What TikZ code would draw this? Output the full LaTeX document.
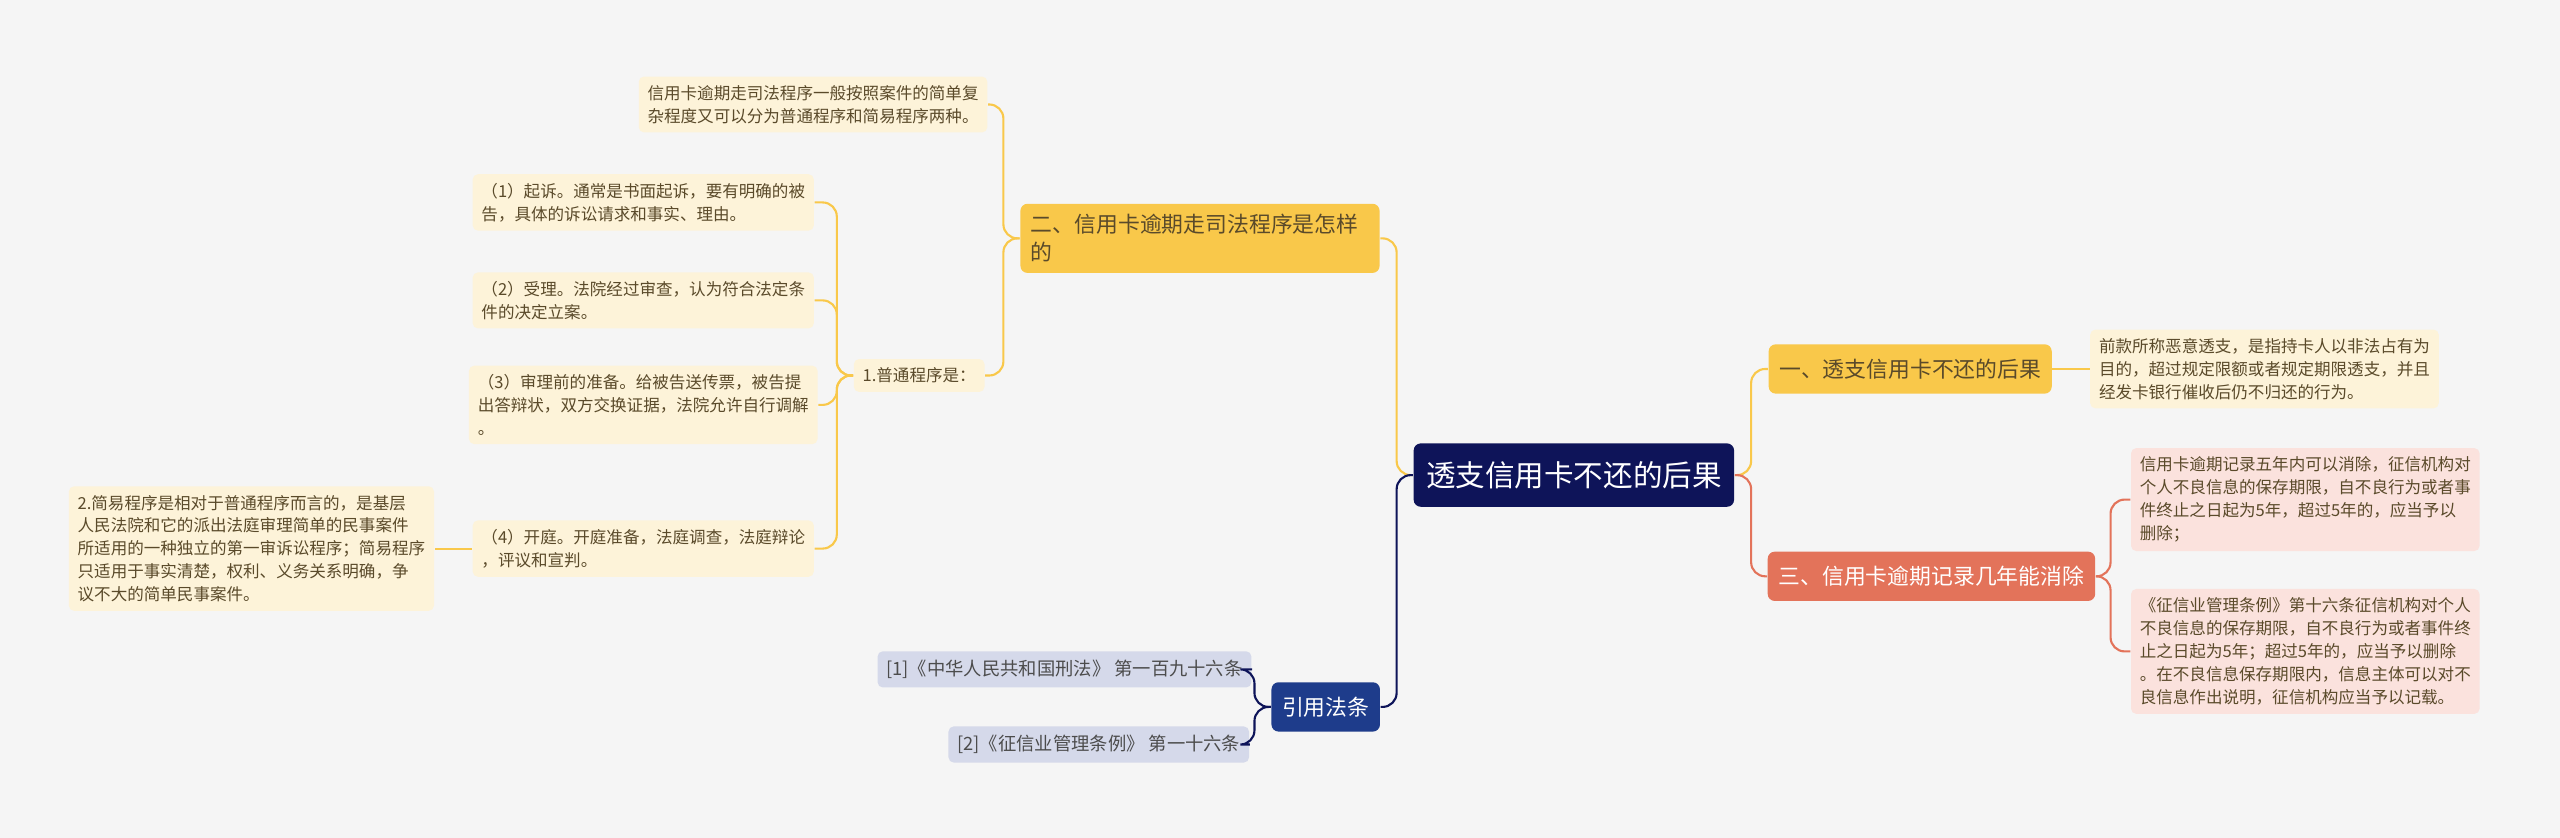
\documentclass[tikz,border=0pt]{standalone}
\usepackage{fontspec}
\setmainfont{Noto Sans CJK SC}
\usetikzlibrary{positioning}
\definecolor{bgc}{HTML}{F5F5F5}
\definecolor{navy}{HTML}{0E1459}
\definecolor{gold}{HTML}{F9C84A}
\definecolor{paleyel}{HTML}{FDF3D9}
\definecolor{redc}{HTML}{E3735A}
\definecolor{palered}{HTML}{FBE2DD}
\definecolor{refblue}{HTML}{1E3C8B}
\definecolor{paleblue}{HTML}{D5D9EA}
\definecolor{txt}{HTML}{5A4A2A}
\tikzset{
  rootbox/.style={fill=navy, text=white, rounded corners=2pt, font=\fontsize{8.4}{10}\selectfont, minimum width=91pt, minimum height=18pt},
  branch/.style={fill=#1, rounded corners=2pt, font=\fontsize{6.2}{8}\selectfont, inner sep=3pt, minimum height=14pt},
  leaf/.style={fill=#1, rounded corners=1.5pt, font=\fontsize{4.7}{6.5}\selectfont, align=left, text=txt, inner sep=2.5pt},
  link/.style={draw=#1, line width=0.6pt, rounded corners=4pt}
}
\begin{document}
\begin{tikzpicture}[x=0.0163cm, y=-0.0163cm]
  \fill[bgc] (0,0) rectangle (1568,513);
  \useasboundingbox (0,0) rectangle (1568,513);
  % centre
  \node[rootbox] (root) at (964,291) {透支信用卡不还的后果};
  % right side
  \node[branch=gold, text=txt, minimum width=80pt] (hou) at (1170,226) {一、透支信用卡不还的后果};
  \node[leaf=paleyel] (houa) at (1387,226) {前款所称恶意透支，是指持卡人以非法占有为\\目的，超过规定限额或者规定期限透支，并且\\经发卡银行催收后仍不归还的行为。};
  \node[branch=redc, text=white, minimum width=93pt] (xiao) at (1183,353) {三、信用卡逾期记录几年能消除};
  \node[leaf=palered] (xiaoa) at (1412,306) {信用卡逾期记录五年内可以消除，征信机构对\\个人不良信息的保存期限，自不良行为或者事\\件终止之日起为5年，超过5年的，应当予以\\删除；};
  \node[leaf=palered] (xiaob) at (1412,399) {《征信业管理条例》第十六条征信机构对个人\\不良信息的保存期限，自不良行为或者事件终\\止之日起为5年；超过5年的，应当予以删除\\。在不良信息保存期限内，信息主体可以对不\\良信息作出说明，征信机构应当予以记载。};
  % left side
  \node[branch=gold, text=txt, align=left, text width=96pt] (cheng) at (735,146) {二、信用卡逾期走司法程序是怎样\\的};
  \node[leaf=paleyel] (chenga) at (498,64) {信用卡逾期走司法程序一般按照案件的简单复\\杂程度又可以分为普通程序和简易程序两种。};
  \node[leaf=paleyel] (putong) at (563,230) {1.普通程序是：};
  \node[leaf=paleyel] (pa) at (394,124) {（1）起诉。通常是书面起诉，要有明确的被\\告，具体的诉讼请求和事实、理由。};
  \node[leaf=paleyel] (pb) at (394,184) {（2）受理。法院经过审查，认为符合法定条\\件的决定立案。};
  \node[leaf=paleyel] (pc) at (394,248) {（3）审理前的准备。给被告送传票，被告提\\出答辩状，双方交换证据，法院允许自行调解\\。};
  \node[leaf=paleyel] (pd) at (394,336) {（4）开庭。开庭准备，法庭调查，法庭辩论\\，评议和宣判。};
  \node[leaf=paleyel] (jian) at (154,336) {2.简易程序是相对于普通程序而言的，是基层\\人民法院和它的派出法庭审理简单的民事案件\\所适用的一种独立的第一审诉讼程序；简易程序\\只适用于事实清楚，权利、义务关系明确，争\\议不大的简单民事案件。};
  \node[branch=refblue, text=white] (fa) at (812,433) {引用法条};
  \node[leaf=paleblue, font=\fontsize{5.2}{6.5}\selectfont, text=black!70] (fa1) at (652,410) {[1]《中华人民共和国刑法》 第一百九十六条};
  \node[leaf=paleblue, font=\fontsize{5.2}{6.5}\selectfont, text=black!70] (fa2) at (673,456) {[2]《征信业管理条例》 第一十六条};
  % connectors
  \draw[link=gold] (root.west) -- ++(-10,0) |- (cheng.east);
  \draw[link=navy] (root.west) -- ++(-10,0) |- (fa.east);
  \draw[link=gold] (root.east) -- ++(10,0) |- (hou.west);
  \draw[link=redc] (root.east) -- ++(10,0) |- (xiao.west);
  \draw[link=gold] (hou.east) -- (houa.west);
  \draw[link=redc] (xiao.east) -- ++(9,0) |- (xiaoa.west);
  \draw[link=redc] (xiao.east) -- ++(9,0) |- (xiaob.west);
  \draw[link=gold] (cheng.west) -- ++(-10,0) |- (chenga.east);
  \draw[link=gold] (cheng.west) -- ++(-10,0) |- (putong.east);
  \foreach \p in {pa,pb,pc,pd}
    \draw[link=gold] (putong.west) -- ++(-10,0) |- (\p.east);
  \draw[link=gold] (pd.west) -- (jian.east);
  \draw[link=navy] (fa.west) -- ++(-10,0) |- (fa1.east);
  \draw[link=navy] (fa.west) -- ++(-10,0) |- (fa2.east);
\end{tikzpicture}
\end{document}
